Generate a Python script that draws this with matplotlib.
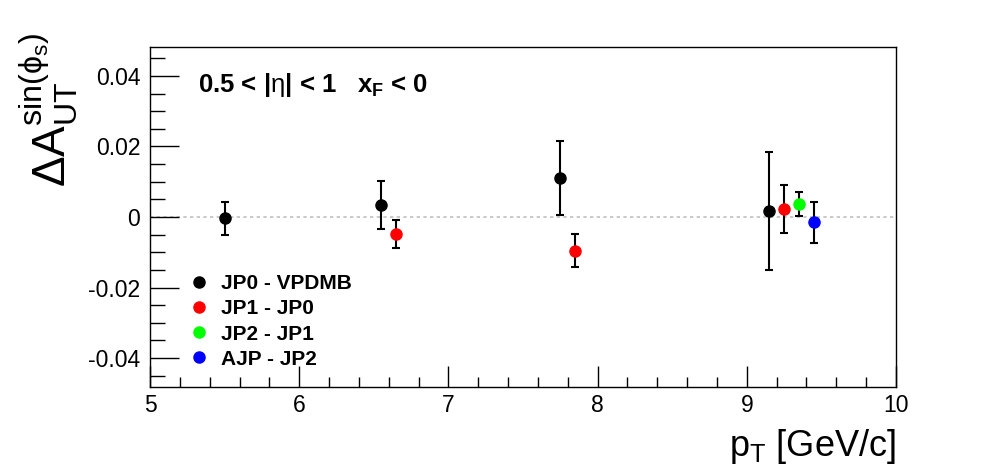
import numpy as np
import matplotlib
matplotlib.use("Agg")
import matplotlib.pyplot as plt
from matplotlib.ticker import MultipleLocator

plt.rcParams["font.family"] = ["Liberation Sans", "DejaVu Sans"]
plt.rcParams["mathtext.fontset"] = "custom"
plt.rcParams["mathtext.rm"] = "Liberation Sans"
plt.rcParams["mathtext.it"] = "Liberation Sans"
plt.rcParams["mathtext.bf"] = "Liberation Sans:bold"

# data
labels = ["JP0 - VPDMB", "JP1 - JP0", "JP2 - JP1", "AJP - JP2"]
colors = ["black", "#ff0000", "#00ff00", "#0000ff"]
pt = [[5.5, 6.55, 7.75, 9.15], [6.65, 7.85, 9.25], [9.35], [9.45]]
asym = [[-0.0004, 0.0034, 0.0110, 0.0017], [-0.0048, -0.0096, 0.0022], [0.0037], [-0.0015]]
err = [[0.0046, 0.0067, 0.0105, 0.0168], [0.0039, 0.0047, 0.0068], [0.0034], [0.0058]]

fig = plt.figure(figsize=(9.96, 4.72), dpi=100)
ax = fig.add_axes([150 / 996, 1 - 387 / 472, 746 / 996, 340 / 472])

ax.axhline(0, color="#c0c0c0", lw=1.2, ls=(0, (2, 2)), zorder=1)

for x, y, e, c, lab in zip(pt, asym, err, colors, labels):
    ax.errorbar(x, y, yerr=e, fmt="none", ecolor="black", elinewidth=1.5,
                capsize=3, capthick=1.5, zorder=2)
    ax.plot(x, y, "o", color=c, ms=8, mec=c, ls="none", label=lab, zorder=3)

ax.set_xlim(5, 10)
ax.set_ylim(-0.0482, 0.0482)
ax.xaxis.set_major_locator(MultipleLocator(1))
ax.xaxis.set_minor_locator(MultipleLocator(0.2))
ax.yaxis.set_major_locator(MultipleLocator(0.02))
ax.yaxis.set_minor_locator(MultipleLocator(0.005))
ax.yaxis.set_major_formatter(plt.FuncFormatter(lambda v, p: "0" if abs(v) < 1e-9 else f"{v:.2f}"))
ax.tick_params(which="both", direction="in", top=False, right=False, width=1, labelsize=16.5)
ax.tick_params(axis="x", which="major", length=15, pad=5)
ax.tick_params(axis="x", which="minor", length=7.5)
ax.tick_params(axis="y", which="major", length=21, pad=7)
ax.tick_params(axis="y", which="minor", length=11)
for s in ax.spines.values():
    s.set_linewidth(1.0)

fig.text(896 / 996, 1 - 456 / 472, r"$\mathrm{p_T}$ [GeV/c]", fontsize=26,
         ha="right", va="baseline")
fig.text(49 / 996, 1 - 32 / 472, r"$\Delta\mathrm{A}_{\mathrm{UT}}^{\mathrm{sin(\phi_s)}}$",
         fontsize=33, rotation=90, ha="center", va="top")

ax.text(0.064, 0.868, r"0.5 < |$\mathrm{\eta}$| < 1   x$_{\mathbf{F}}$ < 0", transform=ax.transAxes,
        fontsize=18.5, fontweight="bold", ha="left", va="baseline")

ax.legend(loc="upper left", bbox_to_anchor=(193 / 996, 1 - 274 / 472),
          bbox_transform=fig.transFigure, frameon=False,
          prop={"weight": "bold", "size": 15}, handlelength=0.6, handletextpad=0.75,
          labelspacing=0.3, borderpad=0, borderaxespad=0, markerscale=1.0)

fig.savefig("out.png", dpi=100)
